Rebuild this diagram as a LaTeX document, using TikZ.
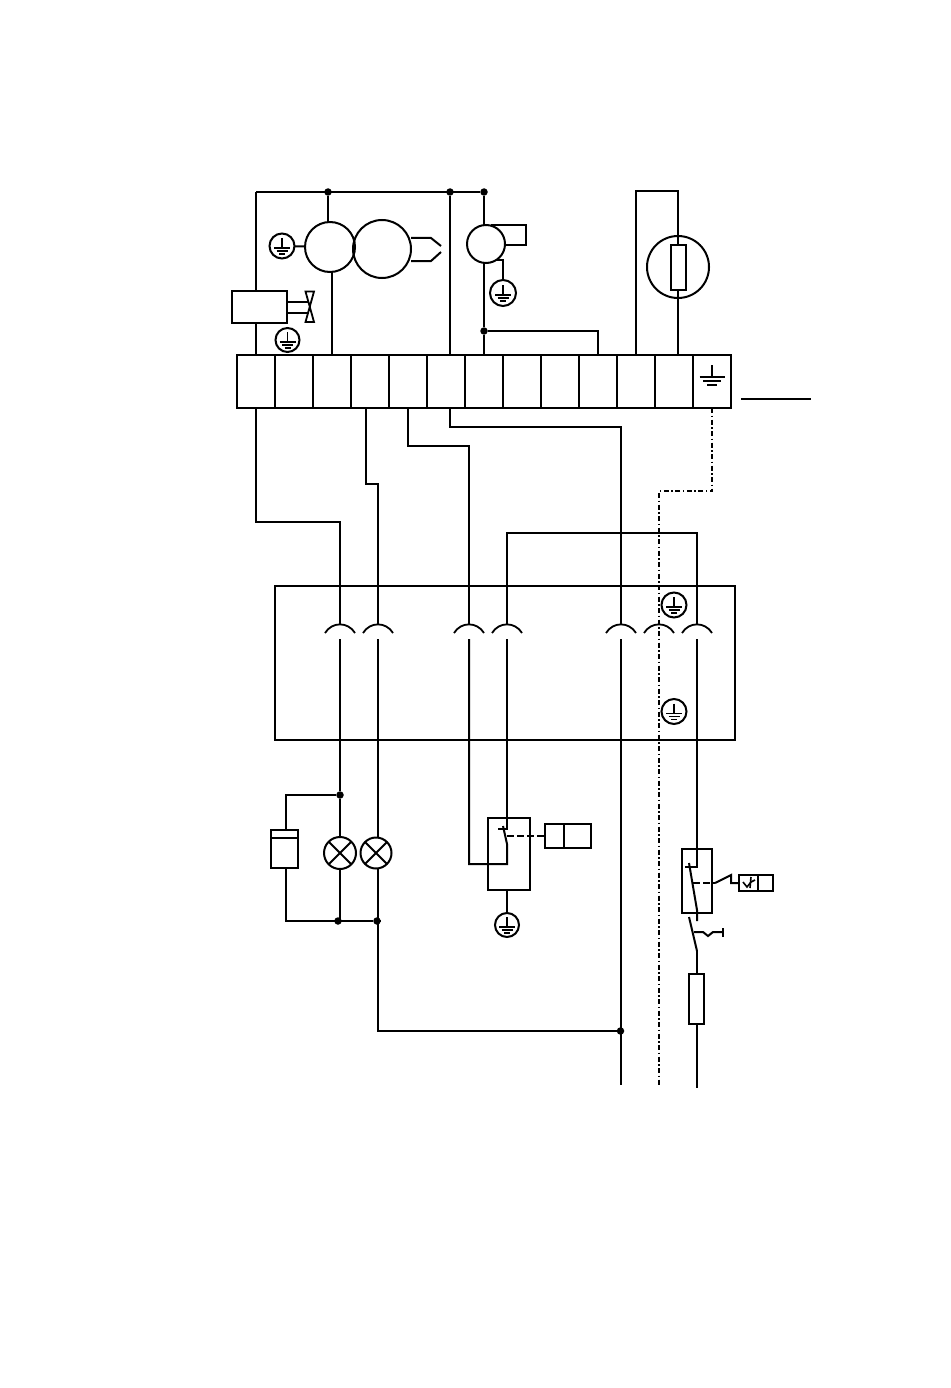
\documentclass[tikz,border=0pt]{standalone}
\usepackage{tikz}
\usetikzlibrary{calc}
\tikzstyle{wire}=[line width=2pt]
\tikzstyle{cell}=[draw,line width=2pt,minimum width=38pt,minimum height=53pt,inner sep=0pt,outer sep=0pt]
\tikzstyle{round}=[draw,line width=2pt,circle,inner sep=0pt,outer sep=0pt]
\tikzstyle{junction}=[fill=black,circle,minimum size=7.5pt,inner sep=0pt,outer sep=0pt]
\tikzstyle{box}=[draw,line width=2pt,inner sep=0pt,outer sep=0pt]
\tikzstyle{earth}=[round,minimum size=24pt,path picture={
  \draw[line width=1.8pt] ($(path picture bounding box.center)+(0,-8)$) -- ++(0,10)
    ($(path picture bounding box.center)+(-8,2)$) -- ++(16,0)
    ($(path picture bounding box.center)+(-5.5,5)$) -- ++(11,0)
    ($(path picture bounding box.center)+(-3,8)$) -- ++(6,0);}]
\tikzstyle{earthdash}=[line width=2pt,dash pattern=on 5pt off 2.5pt on 1.5pt off 2.5pt]
\tikzstyle{linkdash}=[line width=2pt,dash pattern=on 7pt off 3pt]

\begin{document}
\begin{tikzpicture}[x=1pt,y=-1pt]
\useasboundingbox (0,0) rectangle (950,1388);

% terminal strip
\foreach \i in {0,...,12}{
  \node [cell] (t\i) at (256+38*\i,381.5) {};
}
\draw[wire] ([xshift=-12.5,yshift=4.5]t12.center) -- ([xshift=12.5,yshift=4.5]t12.center)
  ([xshift=-9,yshift=0.5]t12.center) -- ([xshift=9,yshift=0.5]t12.center)
  ([xshift=-5,yshift=-3.5]t12.center) -- ([xshift=5,yshift=-3.5]t12.center)
  ([yshift=16.5]t12.center) -- ([yshift=4.5]t12.center);
\coordinate (bl) at (741,399);
\coordinate (br) at (811,399);
\draw[wire] (bl) -- (br);

% top junctions
\node [junction] (j1) at (328,192) {};
\node [junction] (j2) at (450,192) {};
\node [junction] (j3) at (484,192) {};
\node [junction] (j4) at (484,331) {};
\coordinate (tl) at (256,192);
\draw[wire] (tl) -- (j3);

% motor and fan
\node [round,minimum size=50pt] (m1) at (330,247) {};
\node [round,minimum size=58pt] (m2) at (382,249) {};
\node [earth,minimum size=25pt] (e1) at (282,246) {};
\draw[wire] (e1) -- (m1);
\draw[wire] (j1) -- (328,222);
\draw[wire] (332,272) -- ([xshift=0]t2.north);
\draw[wire] (411,238) -- (431,238) -- (441,246);
\draw[wire] (411,261) -- (431,261) -- (441,252);

% valve
\node [box,minimum width=55pt,minimum height=32pt] (v) at (259.5,307) {};
\node [earth] (e2) at (287.5,340) {};
\draw[wire] (tl) -- (v.north -| tl);
\draw[wire] (v.south -| tl) -- (t0.north);
\draw[wire] (287,302) -- (309,302);
\draw[wire] (287,313) -- (309,313);
\draw[line width=1.8pt] (305.5,291.5) -- (314,291.5) -- (305.5,322) -- (314,322) -- cycle;

% second motor
\node [round,minimum size=38pt] (m3) at (486,244) {};
\node [earth,minimum size=26pt] (e3) at (503,293) {};
\draw[wire] (j2) -- ([xshift=4]t5.north);
\draw[wire] (j3) -- (484,225);
\draw[wire] (484,263) -- (j4) -- (t6.north);
\draw[wire] (491,225.5) -- (526,225.5) -- (526,245) -- (505,245);
\draw[wire] (496,260) -- (503,260) -- (e3);
\draw[wire] (j4) -| (t9.north);

% heater
\node [round,minimum size=62pt] (h) at (678,267) {};
\node [box,minimum width=15pt,minimum height=45pt] (hr) at (678,267.5) {};
\draw[wire] (t10.north) -- (636,191) -- (678,191) -- (hr.north);
\draw[wire] (hr.south) -- ([xshift=4]t11.north);

% sockets
\foreach \n/\x in {a/340,b/378,c/469,d/507,e/621,f/659,g/697}{
  \coordinate (s\n) at (\x,633);
  \coordinate (up\n) at (\x,624);
  \coordinate (dn\n) at (\x,639);
  \draw[line width=1.8pt] (\x-15,633) .. controls (\x-8,621.5) and (\x+8,621.5) .. (\x+15,633);
}
\node [box,minimum width=460pt,minimum height=154pt] (plug) at (505,663) {};
\node [earth,minimum size=25pt] (e4) at (674,605) {};
\node [earth,minimum size=25pt] (e5) at (674,711.5) {};

% cables
\draw[wire] (t0.south) -- (256,522) -| (upa);
\draw[wire] (366,408) -- (366,484) -- (378,484) -- (upb);
\draw[wire] (t4.south) -- (408,446) -| (upc);
\draw[wire] ([xshift=4]t5.south) -- (450,427) -| (upe);
\draw[wire] (upd) |- (697,533) -- (upg);
\draw[earthdash] (t12.south) -- (712,491) -| (659,1085);

% lamps
\node [junction] (j5) at (340,795) {};
\node [junction] (j6) at (338,921) {};
\node [junction] (j7) at (377,921) {};
\node [junction] (j8) at (620.5,1031) {};
\node [round,minimum size=32pt] (l1) at (340,853) {};
\node [round,minimum size=31pt] (l2) at (376,853) {};
\draw[wire] (l1.45) -- (l1.225) (l1.135) -- (l1.315);
\draw[wire] (l2.45) -- (l2.225) (l2.135) -- (l2.315);
\node [box,minimum width=27pt,minimum height=38pt] (cap) at (284.5,849) {};
\draw[wire] ([yshift=-8]cap.north west) -- ([yshift=-8]cap.north east);
\draw[wire] (dna) -- (j5) -- (l1);
\draw[wire] (l1) -- (340,921);
\draw[wire] (dnb) -- (378,837);
\draw[wire] (378,868) -- (378,921);
\draw[wire] (j5) -| (286,830);
\draw[wire] (286,868) |- (j7);
\draw[wire] (j7) -- (378,921) |- (j8);
\draw[wire] (dne) -- (621,1085);

% relay
\node [box,minimum width=42pt,minimum height=72pt] (rel) at (509,854) {};
\node [box,minimum width=46pt,minimum height=24pt] (coil) at (568,836) {};
\draw[wire] (coil.north) ++(-4,0) -- ++(0,24);
\node [earth] (e6) at (507,925) {};
\draw[wire] (dnd) -- (507,829) -- (498,829);
\draw[wire] (503,826) -- (507,844) -- (507,864) -- (469,864) -- (dnc);
\draw[linkdash] (507,836) -- (coil.west);
\draw[wire] (507,890) -- (e6);

% safety chain
\node [box,minimum width=30pt,minimum height=64pt] (sw) at (697,880.5) {};
\node [box,minimum width=34pt,minimum height=16pt] (th) at (756,883) {};
\draw[wire] (th.north) ++(2,0) -- ++(0,16);
\draw[wire] (dng) -- (697,867) -- (685,867);
\draw[wire] (689,863) -- (697,910) -- (697,921);
\draw[linkdash] (693,883) -- (715,883);
\draw[wire] (715,883) -- (731,875) -- (731,883) -- (th.west);
\draw[line width=1.6pt] (743,882) -- (747,887) -- (751,882) -- (755,880);
\draw[line width=1.6pt] (751,877) -- (750,888);
\draw[wire] (689,917) -- (697,951);
\draw[wire] (694,932) -- (703,932) -- (708,936) -- (713,932) -- (723,932);
\draw[wire] (723,928) -- (723,937);
\node [box,minimum width=15pt,minimum height=50pt] (fu) at (696.5,999) {};
\draw[wire] (697,951) -- (fu.north -| 697,0);
\draw[wire] (fu.south -| 697,0) -- (697,1088);
\end{tikzpicture}
\end{document}
